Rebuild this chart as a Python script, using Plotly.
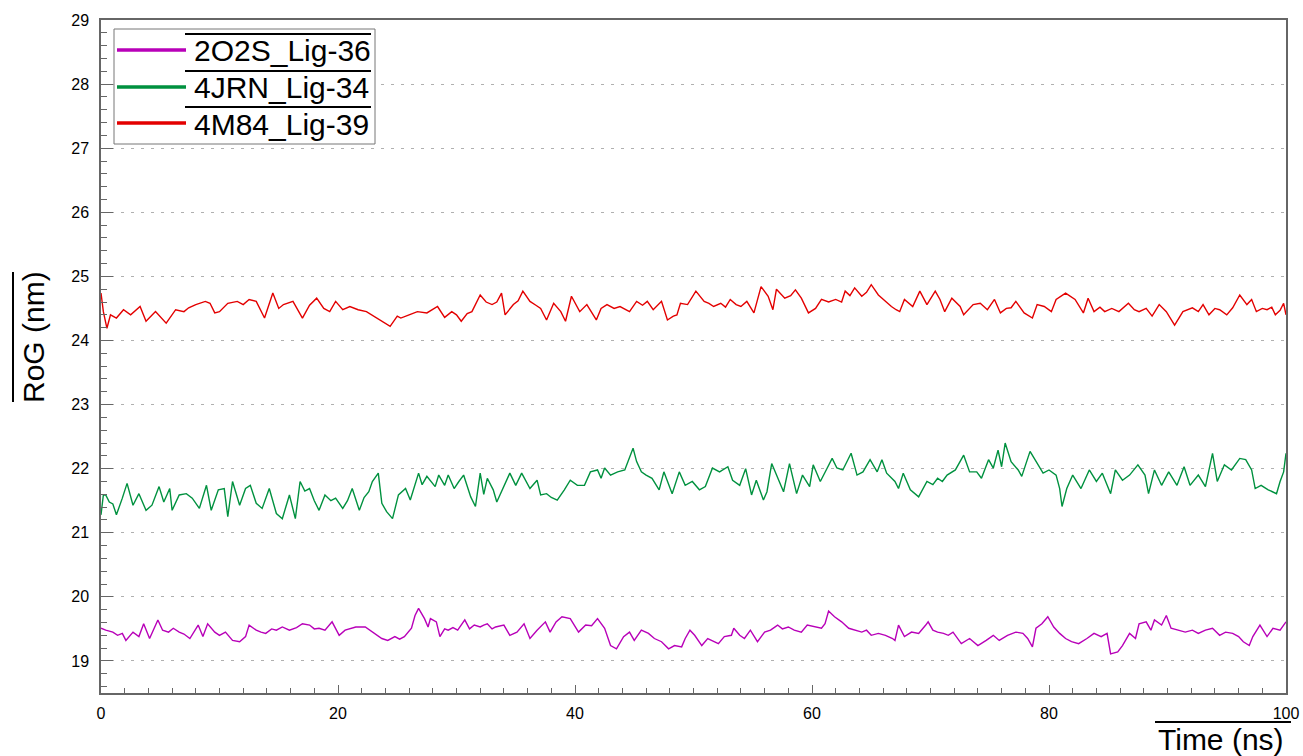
import plotly.graph_objects as go

# ---------------- data ----------------
series_names = ["2O2S_Lig-36", "4JRN_Lig-34", "4M84_Lig-39"]
series_colors = ["#B800B8", "#00913F", "#E30000"]

t_2o2s = [0, 0.4, 1.0, 1.4, 1.8, 2.1, 2.7, 3.2, 3.6, 4.1, 4.8, 5.2, 5.7, 6.1, 6.6, 7.0, 7.5, 8.2, 8.6, 9.0,
          9.6, 10.0, 10.5, 11.1, 11.7, 12.2, 12.5, 13.1, 13.5, 13.9, 14.4, 14.8, 15.3, 15.9, 16.5, 17.0, 17.6,
          18.0, 18.4, 18.9, 19.5, 20.1, 20.6, 21.0, 21.5, 22.3, 22.9, 23.3, 23.7, 24.2, 24.8, 25.2, 25.6, 26.2,
          26.5, 26.8, 27.3, 27.6, 27.8, 28.3, 28.6, 29.0, 29.3, 29.7, 30.1, 30.7, 31.1, 31.5, 32.0, 32.3, 32.6,
          33.0, 33.3, 34.0, 34.5, 35.1, 35.7, 36.2, 36.8, 37.5, 37.9, 38.4, 38.9, 39.6, 40.3, 40.9, 41.4, 41.9,
          42.5, 43.0, 43.5, 44.1, 44.6, 45.0, 45.6, 46.2, 46.7, 47.3, 47.9, 48.4, 49.0, 49.3, 49.7, 50.1, 50.7,
          51.2, 51.7, 52.1, 52.6, 53.2, 53.4, 53.9, 54.3, 54.8, 55.4, 56.0, 56.5, 57.1, 57.5, 58.0, 58.5, 59.1,
          59.6, 60.2, 60.8, 61.1, 61.4, 61.9, 62.5, 63.1, 63.6, 64.2, 64.6, 65.0, 65.6, 66.2, 66.8, 67.0, 67.3,
          67.8, 68.4, 69.0, 69.6, 69.8, 70.2, 70.6, 71.1, 71.5, 71.9, 72.6, 73.3, 74.0, 74.7, 75.3, 75.8, 76.5,
          77.2, 77.8, 78.2, 78.6, 78.9, 79.4, 79.9, 80.4, 80.9, 81.4, 81.9, 82.5, 83.2, 83.8, 84.4, 84.9, 85.2,
          85.8, 86.2, 86.8, 87.3, 87.6, 88.2, 88.6, 88.9, 89.5, 89.9, 90.3, 90.9, 91.5, 92.1, 92.6, 93.2, 93.8,
          94.4, 94.9, 95.5, 96.0, 96.4, 96.9, 97.2, 97.8, 98.4, 98.9, 99.5, 100]
rog_2o2s = [19.51, 19.48, 19.45, 19.40, 19.43, 19.32, 19.45, 19.38, 19.58, 19.35, 19.64, 19.48, 19.45, 19.51,
            19.45, 19.42, 19.35, 19.56, 19.38, 19.58, 19.45, 19.40, 19.45, 19.32, 19.30, 19.38, 19.56, 19.48,
            19.45, 19.43, 19.50, 19.48, 19.53, 19.48, 19.52, 19.58, 19.56, 19.50, 19.51, 19.48, 19.61, 19.40,
            19.48, 19.50, 19.53, 19.53, 19.45, 19.40, 19.35, 19.32, 19.38, 19.34, 19.38, 19.51, 19.71, 19.82,
            19.66, 19.53, 19.66, 19.61, 19.38, 19.50, 19.48, 19.52, 19.48, 19.64, 19.50, 19.56, 19.53, 19.56,
            19.58, 19.50, 19.53, 19.56, 19.40, 19.45, 19.58, 19.35, 19.48, 19.61, 19.45, 19.61, 19.69, 19.66,
            19.45, 19.56, 19.55, 19.66, 19.51, 19.24, 19.19, 19.38, 19.45, 19.32, 19.48, 19.43, 19.35, 19.30,
            19.19, 19.24, 19.22, 19.35, 19.48, 19.40, 19.24, 19.35, 19.30, 19.27, 19.38, 19.40, 19.51, 19.40,
            19.35, 19.48, 19.30, 19.45, 19.48, 19.56, 19.50, 19.53, 19.48, 19.45, 19.56, 19.53, 19.51, 19.58,
            19.78, 19.69, 19.61, 19.51, 19.48, 19.45, 19.48, 19.40, 19.43, 19.40, 19.35, 19.32, 19.56, 19.38,
            19.45, 19.43, 19.56, 19.61, 19.48, 19.45, 19.43, 19.40, 19.45, 19.27, 19.35, 19.24, 19.32, 19.40,
            19.32, 19.40, 19.45, 19.43, 19.35, 19.22, 19.51, 19.58, 19.69, 19.53, 19.43, 19.35, 19.30, 19.27,
            19.35, 19.43, 19.38, 19.43, 19.11, 19.14, 19.24, 19.43, 19.35, 19.58, 19.61, 19.48, 19.64, 19.56,
            19.71, 19.51, 19.48, 19.45, 19.48, 19.43, 19.48, 19.51, 19.40, 19.45, 19.43, 19.38, 19.30, 19.24,
            19.38, 19.56, 19.38, 19.51, 19.48, 19.61]

t_4jrn = [0, 0.2, 0.4, 0.7, 1.0, 1.3, 1.8, 2.2, 2.7, 3.2, 3.8, 4.3, 4.9, 5.3, 5.8, 6.0, 6.6, 7.2, 7.7, 8.3,
          8.9, 9.3, 9.9, 10.4, 10.7, 11.1, 11.7, 12.2, 12.6, 13.1, 13.6, 14.2, 14.8, 15.3, 15.9, 16.4, 16.8,
          17.2, 17.6, 18.0, 18.4, 18.9, 19.4, 19.8, 20.4, 20.8, 21.2, 21.8, 22.2, 22.6, 22.9, 23.4, 23.7, 24.1,
          24.6, 25.1, 25.7, 26.1, 26.8, 27.1, 27.5, 28.2, 28.5, 29.0, 29.3, 29.8, 30.2, 30.6, 31.2, 31.6, 32.0,
          32.3, 32.6, 33.1, 33.4, 34.0, 34.5, 35.0, 35.5, 36.2, 36.8, 37.1, 37.6, 38.0, 38.5, 39.1, 39.6, 40.2,
          40.8, 41.3, 41.9, 42.2, 42.5, 43.0, 43.6, 44.2, 44.9, 45.2, 45.6, 46.0, 46.5, 47.1, 47.5, 48.2, 48.8,
          49.3, 49.9, 50.5, 51.0, 51.6, 52.2, 52.9, 53.3, 53.9, 54.4, 54.9, 55.3, 55.9, 56.2, 56.6, 57.0, 57.6,
          58.1, 58.7, 59.2, 59.8, 60.1, 60.7, 61.2, 61.7, 62.1, 62.6, 63.3, 63.8, 64.3, 64.9, 65.5, 65.9, 66.3,
          67.0, 67.3, 67.7, 68.3, 69.0, 69.7, 70.2, 70.6, 71.0, 71.4, 72.1, 72.8, 73.3, 73.9, 74.3, 74.9, 75.3,
          75.7, 76.0, 76.3, 76.8, 77.4, 77.7, 78.4, 78.9, 79.5, 80.0, 80.6, 80.9, 81.1, 81.5, 82.0, 82.7, 83.4,
          84.0, 84.5, 85.2, 85.6, 86.2, 86.8, 87.5, 88.1, 88.4, 88.9, 89.5, 90.1, 90.8, 91.4, 91.9, 92.6, 93.2,
          93.8, 94.2, 94.8, 95.4, 96.1, 96.6, 97.1, 97.4, 97.9, 98.5, 99.2, 99.5, 99.8, 100]
rog_4jrn = [21.28, 21.59, 21.59, 21.48, 21.45, 21.28, 21.54, 21.77, 21.43, 21.61, 21.35, 21.43, 21.72, 21.48,
            21.69, 21.35, 21.59, 21.61, 21.54, 21.38, 21.74, 21.35, 21.67, 21.69, 21.25, 21.80, 21.43, 21.69,
            21.74, 21.46, 21.38, 21.69, 21.30, 21.22, 21.59, 21.22, 21.80, 21.65, 21.69, 21.50, 21.35, 21.59,
            21.50, 21.54, 21.38, 21.50, 21.69, 21.35, 21.55, 21.64, 21.80, 21.93, 21.46, 21.33, 21.22, 21.59,
            21.69, 21.51, 21.93, 21.75, 21.88, 21.72, 21.90, 21.74, 21.90, 21.69, 21.80, 21.90, 21.56, 21.41,
            21.93, 21.60, 21.85, 21.67, 21.48, 21.74, 21.93, 21.74, 21.93, 21.69, 21.82, 21.59, 21.61, 21.55,
            21.51, 21.67, 21.82, 21.74, 21.74, 21.95, 21.98, 21.85, 22.01, 21.90, 21.95, 21.98, 22.32, 22.11,
            21.95, 21.90, 21.85, 21.67, 21.95, 21.61, 21.95, 21.74, 21.80, 21.67, 21.72, 22.01, 21.95, 22.03,
            21.82, 21.74, 22.00, 21.59, 21.82, 21.51, 21.64, 22.08, 21.90, 21.64, 22.08, 21.61, 21.90, 21.72,
            22.06, 21.80, 21.98, 22.16, 22.01, 21.98, 22.24, 21.90, 21.95, 22.14, 21.95, 22.14, 21.93, 21.80,
            21.69, 21.93, 21.67, 21.56, 21.80, 21.75, 21.85, 21.80, 21.90, 21.98, 22.21, 21.95, 21.95, 21.85,
            22.14, 22.01, 22.29, 22.03, 22.40, 22.11, 21.98, 21.88, 22.27, 22.11, 21.93, 21.98, 21.90, 21.69,
            21.41, 21.69, 21.90, 21.69, 21.98, 21.80, 21.93, 21.61, 21.98, 21.82, 21.90, 22.06, 21.90, 21.61,
            21.98, 21.74, 21.95, 21.74, 22.03, 21.74, 21.90, 21.72, 22.24, 21.80, 22.06, 21.98, 22.16, 22.14,
            21.98, 21.69, 21.74, 21.67, 21.61, 21.80, 21.95, 22.24]

t_4m84 = [0, 0.2, 0.5, 0.8, 1.3, 1.9, 2.5, 3.3, 3.8, 4.6, 5.5, 6.3, 7.0, 7.4, 8.0, 8.8, 9.2, 9.6, 10.0, 10.7,
          11.5, 12.0, 12.5, 13.1, 13.8, 14.5, 15.0, 15.4, 16.2, 17.0, 17.6, 18.2, 18.8, 19.3, 19.8, 20.4, 21.0,
          21.7, 22.4, 23.3, 23.8, 24.4, 25.0, 25.3, 26.0, 26.7, 27.5, 28.0, 28.4, 29.0, 29.6, 30.0, 30.4, 30.9,
          31.3, 32.0, 32.5, 33.0, 33.4, 33.8, 34.1, 34.8, 35.2, 35.6, 36.2, 36.7, 37.1, 37.6, 38.2, 38.8, 39.2,
          39.7, 40.4, 41.0, 41.8, 42.2, 42.7, 43.3, 43.8, 44.6, 45.2, 45.7, 46.1, 46.6, 47.3, 47.8, 48.3, 48.6,
          48.9, 49.5, 50.2, 50.9, 51.3, 51.7, 52.3, 52.7, 53.1, 53.6, 54.0, 54.5, 55.1, 55.7, 56.3, 56.7, 57.0,
          57.7, 58.2, 58.6, 59.1, 59.7, 60.3, 60.8, 61.4, 62.0, 62.5, 62.8, 63.2, 63.6, 64.2, 64.6, 65.0, 65.6,
          66.2, 66.7, 67.1, 67.4, 67.8, 68.5, 69.1, 69.7, 70.4, 70.8, 71.2, 71.8, 72.5, 72.8, 73.6, 74.2, 74.8,
          75.4, 75.9, 76.4, 76.8, 77.2, 77.9, 78.6, 79.0, 79.6, 80.2, 80.6, 81.4, 82.2, 82.9, 83.3, 83.8, 84.3,
          84.7, 85.3, 85.9, 86.7, 87.2, 87.6, 88.2, 88.7, 89.3, 89.9, 90.6, 91.3, 92.1, 92.6, 93.0, 93.5, 94.0,
          94.4, 95.0, 95.5, 96.1, 96.7, 97.1, 97.5, 98.0, 98.4, 98.8, 99.1, 99.5, 99.8, 100]
rog_4m84 = [24.74, 24.45, 24.19, 24.40, 24.35, 24.48, 24.40, 24.53, 24.30, 24.45, 24.27, 24.48, 24.45, 24.51,
            24.56, 24.61, 24.58, 24.43, 24.45, 24.58, 24.61, 24.56, 24.64, 24.61, 24.35, 24.74, 24.50, 24.56,
            24.61, 24.35, 24.55, 24.66, 24.50, 24.45, 24.61, 24.48, 24.53, 24.48, 24.45, 24.35, 24.30, 24.22,
            24.38, 24.35, 24.40, 24.45, 24.43, 24.48, 24.53, 24.36, 24.45, 24.40, 24.30, 24.42, 24.45, 24.71,
            24.60, 24.56, 24.60, 24.74, 24.40, 24.56, 24.62, 24.77, 24.61, 24.55, 24.50, 24.32, 24.58, 24.45,
            24.30, 24.69, 24.45, 24.56, 24.32, 24.50, 24.56, 24.50, 24.53, 24.45, 24.61, 24.55, 24.61, 24.48,
            24.61, 24.32, 24.38, 24.40, 24.58, 24.56, 24.77, 24.61, 24.58, 24.53, 24.58, 24.52, 24.64, 24.56,
            24.53, 24.61, 24.43, 24.84, 24.69, 24.48, 24.80, 24.66, 24.70, 24.79, 24.66, 24.43, 24.50, 24.64,
            24.60, 24.64, 24.60, 24.77, 24.70, 24.82, 24.69, 24.75, 24.87, 24.71, 24.61, 24.53, 24.48, 24.45,
            24.64, 24.53, 24.77, 24.56, 24.77, 24.64, 24.45, 24.66, 24.53, 24.40, 24.56, 24.58, 24.48, 24.64,
            24.43, 24.50, 24.51, 24.61, 24.43, 24.35, 24.56, 24.53, 24.45, 24.64, 24.74, 24.64, 24.43, 24.66,
            24.45, 24.52, 24.45, 24.50, 24.45, 24.58, 24.48, 24.45, 24.50, 24.38, 24.56, 24.45, 24.24, 24.45,
            24.51, 24.45, 24.56, 24.40, 24.50, 24.48, 24.40, 24.51, 24.71, 24.56, 24.64, 24.45, 24.50, 24.48,
            24.52, 24.40, 24.47, 24.58, 24.40]

x_range = [0, 100]
y_range = [18.5, 29]
x_title = "Time (ns)"
y_title = "RoG (nm)"

# ---------------- layout geometry ----------------
W, H = 1303, 756
L, R, T, B = 101, 17, 20, 63
PW = W - L - R
PH = H - T - B
FONT = "Liberation Sans, Arial, sans-serif"


def px(x):
    return (x - L) / PW


def py(y):
    return (H - B - y) / PH


fig = go.Figure()
for name, color, xs, ys in zip(series_names, series_colors,
                               [t_2o2s, t_4jrn, t_4m84], [rog_2o2s, rog_4jrn, rog_4m84]):
    fig.add_trace(go.Scatter(x=xs, y=ys, mode="lines", name=name, showlegend=False,
                             line=dict(color=color, width=1.4)))

axis_col = "#666666"
fig.update_layout(
    width=W, height=H,
    margin=dict(l=L, r=R, t=T, b=B, pad=0, autoexpand=False),
    paper_bgcolor="white", plot_bgcolor="white",
    font=dict(family=FONT, color="black", size=16),
    showlegend=False,
    xaxis=dict(range=x_range, dtick=20, tick0=0, ticks="inside", ticklen=8, tickwidth=1,
               tickcolor=axis_col, showline=True, linecolor=axis_col, linewidth=1.5, mirror=True,
               showgrid=False, zeroline=False, ticklabelstandoff=5, automargin=False,
               tickfont=dict(family=FONT, size=16, color="black"),
               minor=dict(dtick=2, ticks="inside", ticklen=5, tickcolor=axis_col, showgrid=False)),
    yaxis=dict(range=y_range, dtick=1, tick0=0, ticks="inside", ticklen=12, tickwidth=1.2,
               tickcolor=axis_col, showline=True, linecolor=axis_col, linewidth=1.5, mirror=True,
               showgrid=True, gridcolor="#b0b0b0", gridwidth=1, griddash="3px,7px",
               zeroline=False, ticklabelstandoff=7, automargin=False,
               tickfont=dict(family=FONT, size=16, color="black"),
               minor=dict(dtick=0.2, ticks="inside", ticklen=6, tickcolor=axis_col, showgrid=False)),
)

shapes = []
annotations = []

# legend box (drawn manually so the line samples and overlines match the reference)
shapes.append(dict(type="rect", xref="paper", yref="paper", x0=px(114), x1=px(375), y0=py(144), y1=py(29),
                   line=dict(color="#777777", width=1), fillcolor="white", layer="above"))
row_y = [50, 87, 123]
for name, color, ry in zip(series_names, series_colors, row_y):
    shapes.append(dict(type="line", xref="paper", yref="paper", x0=px(117), x1=px(186), y0=py(ry), y1=py(ry),
                       line=dict(color=color, width=3.5), layer="above"))
    shapes.append(dict(type="line", xref="paper", yref="paper", x0=px(185), x1=px(371), y0=py(ry - 16),
                       y1=py(ry - 16), line=dict(color="black", width=2), layer="above"))
    annotations.append(dict(text=name, xref="paper", yref="paper", x=px(192), y=py(ry + 1),
                            xanchor="left", yanchor="middle", showarrow=False,
                            font=dict(family=FONT, size=30, color="black")))

# axis titles with overlines
annotations.append(dict(text=x_title, xref="paper", yref="paper", x=px(1221), y=py(739),
                        xanchor="center", yanchor="middle", showarrow=False,
                        font=dict(family=FONT, size=30, color="black")))
shapes.append(dict(type="line", xref="paper", yref="paper", x0=px(1155), x1=px(1291), y0=py(722), y1=py(722),
                   line=dict(color="black", width=2)))
annotations.append(dict(text=y_title, xref="paper", yref="paper", x=px(33), y=py(337), textangle=-90,
                        xanchor="center", yanchor="middle", showarrow=False,
                        font=dict(family=FONT, size=30, color="black")))
shapes.append(dict(type="line", xref="paper", yref="paper", x0=px(13), x1=px(13), y0=py(402), y1=py(272),
                   line=dict(color="black", width=2)))

fig.update_layout(shapes=shapes, annotations=annotations)
fig.write_html("out.html")
